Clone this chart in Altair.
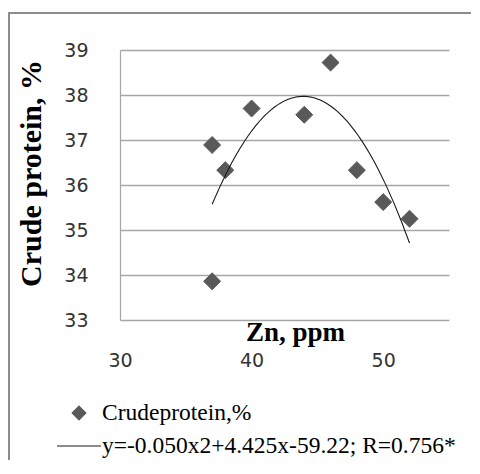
import altair as alt
import pandas as pd

# Data
zn = [37, 37, 38, 40, 44, 46, 48, 50, 52]
protein = [36.89, 33.86, 36.33, 37.70, 37.56, 38.72, 36.33, 35.62, 35.25]
x_ticks = [30, 40, 50]
y_ticks = [33, 34, 35, 36, 37, 38, 39]
pt_label = "Crudeprotein,%"
fit_label = "y=-0.050x2+4.425x-59.22; R=0.756*"

DIAMOND = "M0,-0.62L0.62,0L0,0.62L-0.62,0Z"
LINE = "M-2,0L2,0"

df = pd.DataFrame({"zn": zn, "protein": protein, "series": pt_label})
frame_df = pd.DataFrame({"k": [0]})

legend = alt.Legend(
    title=None, orient="none", legendX=-53, legendY=351, direction="vertical",
    symbolSize=484, symbolStrokeWidth=1.2, labelFont="Liberation Serif",
    labelFontSize=23.5, labelColor="#000000", labelOffset=11, rowPadding=9,
    labelLimit=600, padding=0,
)
color = alt.Color(
    "series:N",
    scale=alt.Scale(domain=[pt_label, fit_label], range=["#595959", "#1a1a1a"]),
    legend=legend,
)
shape = alt.Shape(
    "series:N",
    scale=alt.Scale(domain=[pt_label, fit_label], range=[DIAMOND, LINE]),
    legend=legend,
)

x_enc = alt.X(
    "zn:Q",
    scale=alt.Scale(domain=[30, 55], nice=False, zero=False),
    axis=alt.Axis(
        values=x_ticks, grid=False, domain=False, ticks=False, labelFlush=False,
        labelFont="DejaVu Sans", labelFontSize=19, labelColor="#333333",
        labelPadding=31, title="Zn, ppm", titleFont="Liberation Serif",
        titleFontWeight="bold", titleFontSize=27, titleColor="#000000",
        titleX=175, titleY=20, titleBaseline="alphabetic", titleAlign="center",
    ),
)
y_enc = alt.Y(
    "protein:Q",
    scale=alt.Scale(domain=[33, 39], nice=False, zero=False),
    axis=alt.Axis(
        values=y_ticks, grid=True, gridColor="#a6a6a6", gridWidth=1.5,
        domain=True, domainColor="#a6a6a6", domainWidth=1.2, ticks=False,
        labelFlush=False,
        labelFont="DejaVu Sans", labelFontSize=19, labelColor="#333333",
        labelPadding=32, title="Crude protein, %", titleFont="Liberation Serif",
        titleFontWeight="bold", titleFontSize=30, titleColor="#000000",
        titleAngle=-90, titleX=-80, titleY=123, titleAlign="center",
        titleBaseline="alphabetic",
    ),
)

frame_left = alt.Chart(frame_df).mark_rule(color="#8c8c8c", strokeWidth=2).encode(
    x=alt.value(-111), y=alt.value(-37), y2=alt.value(420)
)
frame_top = alt.Chart(frame_df).mark_rule(color="#8c8c8c", strokeWidth=2).encode(
    x=alt.value(-112), x2=alt.value(360), y=alt.value(-37)
)

points = alt.Chart(df).mark_point(
    filled=False, fill="#595959", fillOpacity=1, size=750, strokeWidth=1, opacity=1
).encode(x=x_enc, y=y_enc, color=color, shape=shape)

fit = alt.Chart(df).transform_regression(
    "zn", "protein", method="poly", order=2
).transform_calculate(
    series=f"'{fit_label}'"
).mark_line(strokeWidth=1.1).encode(
    x=alt.X("zn:Q"), y=alt.Y("protein:Q"), color=color
)

chart = alt.layer(frame_left, frame_top, points, fit).properties(
    width=329, height=270,
    autosize=alt.AutoSizeParams(type="none"),
    padding={"left": 112, "top": 42, "right": 22, "bottom": 140},
).configure_view(stroke=None)

chart.save("out.html", embed_options={"renderer": "svg", "actions": False})
